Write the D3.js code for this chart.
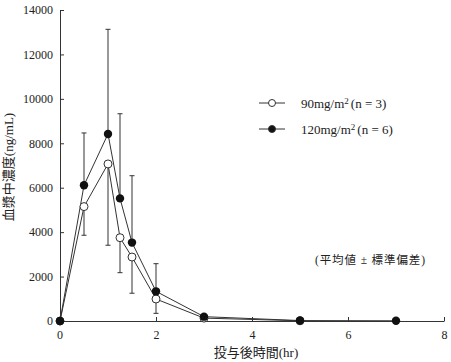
<!DOCTYPE html>
<html>
<head>
<meta charset="utf-8">
<script src="https://cdn.jsdelivr.net/npm/d3@7"></script>
<style>
  body { margin: 0; background: white; }
  svg text { font-family: "Liberation Serif", "DejaVu Serif", "Noto Sans CJK JP", serif; fill: #222; }
</style>
</head>
<body>
<div id="chart"></div>
<script>
const lineColor = '#333333';
const fontSize = '12px';
const titleSize = '13px';

// 120mg/m2 (n=6), error bars drawn upward (+SD)
const timesHigh = [0, 0.5, 1, 1.25, 1.5, 2, 3, 5, 7];
const meanHigh = [0, 6110, 8420, 5520, 3530, 1335, 195, 20, 10];
const sdHigh = [0, 2355, 4710, 3810, 3010, 1245, 60, 0, 0];

// 90mg/m2 (n=3), error bars drawn downward (-SD)
const timesLow = [0, 0.5, 1, 1.25, 1.5, 2, 3, 5];
const meanLow = [0, 5150, 7070, 3750, 2880, 990, 130, 10];
const sdLow = [0, 1290, 3660, 1575, 1630, 645, 50, 0];

const xTicks = [2, 4, 6, 8];
const yTicks = [0, 2000, 4000, 6000, 8000, 10000, 12000, 14000];

const width = 451;
const height = 362;
const margin = {top: 10, right: 7, bottom: 41, left: 60};

const svg = d3.select('#chart')
  .append('svg')
  .attr('width', width)
  .attr('height', height);

const xScale = d3.scaleLinear().domain([0, 8]).range([margin.left, width - margin.right]);
const yScale = d3.scaleLinear().domain([0, 14000]).range([height - margin.bottom, margin.top]);

const xAxis = svg.append('g')
  .attr('transform', `translate(0, ${yScale(0)})`)
  .call(d3.axisBottom(xScale).tickValues(xTicks).tickSizeInner(-4).tickSizeOuter(0).tickPadding(9).tickFormat(d3.format('d')));

const yAxis = svg.append('g')
  .attr('transform', `translate(${xScale(0)}, 0)`)
  .call(d3.axisLeft(yScale).tickValues(yTicks).tickSizeInner(-4).tickSizeOuter(0).tickPadding(7).tickFormat(d3.format('d')));

// label for 0 on the x axis
xAxis.append('g')
  .attr('class', 'tick')
  .attr('transform', `translate(${xScale(0)}, 0)`)
  .append('text')
  .attr('y', 9)
  .attr('dy', '0.71em')
  .attr('text-anchor', 'middle')
  .text('0');

[xAxis, yAxis].forEach(axis => {
  axis.select('.domain').attr('stroke', lineColor);
  axis.selectAll('line').attr('stroke', lineColor);
  axis.selectAll('text').style('font-size', fontSize).attr('fill', '#222')
    .style('font-family', '"Liberation Serif", serif');
});

const line = d3.line()
  .x(d => xScale(d.t))
  .y(d => yScale(d.v));

const high = timesHigh.map((t, i) => ({t, v: meanHigh[i], sd: sdHigh[i]}));
const low = timesLow.map((t, i) => ({t, v: meanLow[i], sd: sdLow[i]}));

function drawErrorBars(data, dir) {
  const g = svg.append('g').attr('stroke', lineColor).attr('stroke-width', 1);
  data.filter(d => d.sd > 0).forEach(d => {
    const x = xScale(d.t);
    const yEnd = yScale(d.v + dir * d.sd);
    g.append('line')
      .attr('x1', x).attr('x2', x)
      .attr('y1', yScale(d.v)).attr('y2', yEnd);
    g.append('line')
      .attr('x1', x - 2.5).attr('x2', x + 2.5)
      .attr('y1', yEnd).attr('y2', yEnd);
  });
}

drawErrorBars(high, 1);
drawErrorBars(low, -1);

svg.append('path')
  .datum(low)
  .attr('fill', 'none')
  .attr('stroke', lineColor)
  .attr('stroke-width', 1)
  .attr('d', line);

svg.append('path')
  .datum(high)
  .attr('fill', 'none')
  .attr('stroke', lineColor)
  .attr('stroke-width', 1)
  .attr('d', line);

svg.append('g')
  .selectAll('circle')
  .data(low)
  .join('circle')
  .attr('cx', d => xScale(d.t))
  .attr('cy', d => yScale(d.v))
  .attr('r', 4)
  .attr('fill', 'white')
  .attr('stroke', lineColor);

svg.append('g')
  .selectAll('circle')
  .data(high)
  .join('circle')
  .attr('cx', d => xScale(d.t))
  .attr('cy', d => yScale(d.v))
  .attr('r', 4.2)
  .attr('fill', '#111');

// axis titles
svg.append('text')
  .attr('transform', `translate(13, 167) rotate(-90)`)
  .attr('text-anchor', 'middle')
  .style('font-size', titleSize)
  .text('血漿中濃度(ng/mL)');

svg.append('text')
  .attr('x', 256)
  .attr('y', 357)
  .attr('text-anchor', 'middle')
  .style('font-size', titleSize)
  .text('投与後時間(hr)');

// legend
const legendItems = [
  {label: '90mg/m', sup: '2', rest: '(n = 3)', fill: 'white', y: 103},
  {label: '120mg/m', sup: '2', rest: '(n = 6)', fill: '#111', y: 129}
];

const legend = svg.append('g');
legendItems.forEach(item => {
  legend.append('line')
    .attr('x1', 259).attr('x2', 285)
    .attr('y1', item.y).attr('y2', item.y)
    .attr('stroke', lineColor);
  legend.append('circle')
    .attr('cx', 272).attr('cy', item.y)
    .attr('r', 3.5)
    .attr('fill', item.fill)
    .attr('stroke', lineColor);
  const text = legend.append('text')
    .attr('x', 301)
    .attr('y', item.y + 4.5)
    .style('font-size', titleSize);
  text.append('tspan').text(item.label);
  text.append('tspan').attr('dy', -4).style('font-size', '9px').text(item.sup);
  text.append('tspan').attr('dy', 4).attr('dx', 2).text(item.rest);
});

svg.append('text')
  .attr('x', 315)
  .attr('y', 264)
  .style('font-size', '11.5px')
  .text('(平均値 ± 標準偏差)')
  .attr('textLength', 110);
</script>
</body>
</html>
